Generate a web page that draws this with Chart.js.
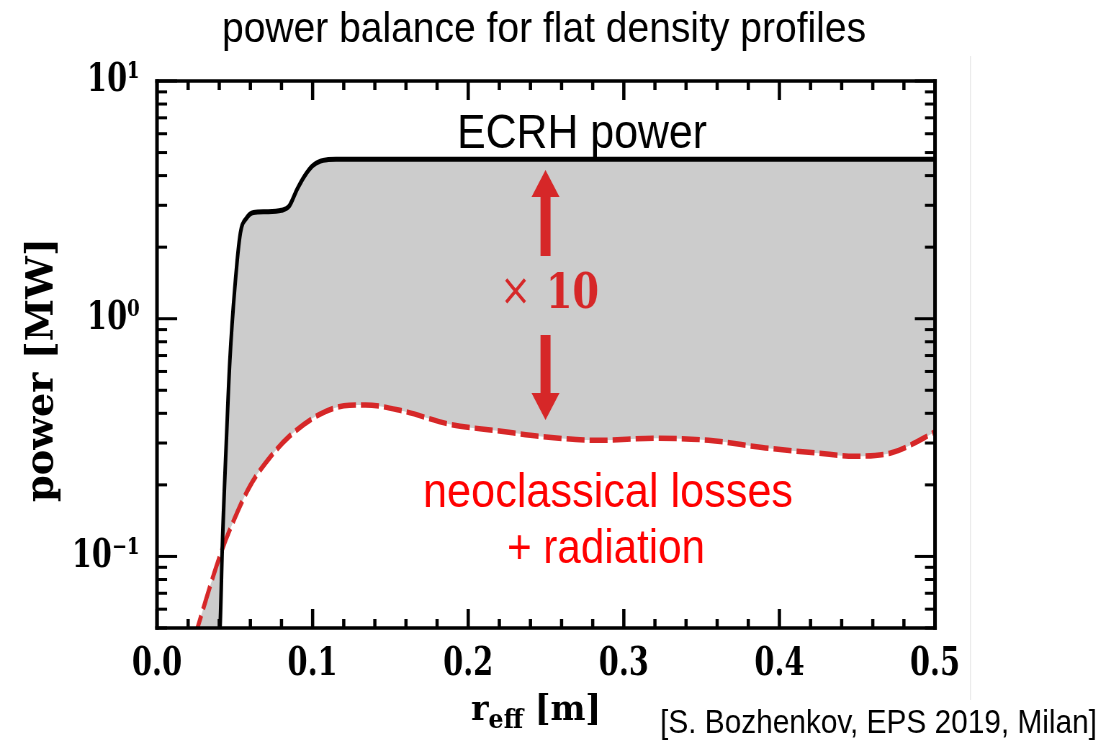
<!DOCTYPE html>
<html>
<head>
<meta charset="utf-8">
<script src="https://cdn.jsdelivr.net/npm/chart.js@4.4.1/dist/chart.umd.min.js"></script>
<style>
html, body { margin: 0; padding: 0; background: #fff; overflow: hidden; }
#wrap { position: absolute; left: 0; top: 0; height: 745px; transform-origin: 0 0; }
</style>
</head>
<body>
<div id="wrap"><canvas id="powerChart"></canvas></div>
<script>
// r_eff [m] / power [MW]
var rEcrh = [0.024, 0.0405, 0.042, 0.0445, 0.0468, 0.050, 0.0536, 0.0575, 0.062, 0.070, 0.080, 0.085, 0.090, 0.095, 0.100, 0.105, 0.110, 0.115, 0.2, 0.3, 0.4, 0.5];
var pEcrh = [0.01, 0.05, 0.112, 0.3, 0.665, 1.35, 2.3, 2.65, 2.8, 2.82, 2.86, 2.98, 3.5, 4.0, 4.4, 4.6, 4.67, 4.69, 4.69, 4.69, 4.69, 4.69];

var rNeo = [0.024, 0.026, 0.0414, 0.049, 0.0596, 0.0724, 0.085, 0.1045, 0.1237, 0.134, 0.158, 0.188, 0.22, 0.25, 0.284, 0.32, 0.3545, 0.391, 0.425, 0.448, 0.472, 0.497, 0.5];
var pNeo = [0.045, 0.05, 0.105, 0.14, 0.197, 0.26, 0.32, 0.396, 0.433, 0.434, 0.409, 0.36, 0.337, 0.318, 0.308, 0.314, 0.308, 0.286, 0.272, 0.264, 0.273, 0.326, 0.335];

var xMajor = [0, 0.1, 0.2, 0.3, 0.4, 0.5];
var xLabels = ['0.0', '0.1', '0.2', '0.3', '0.4', '0.5'];
var yMajor = [0.1, 1, 10];
var yLabels = ['10⁻¹', '10⁰', '10¹'];

// the figure on the slide is squeezed sideways, so draw wide and squeeze
var W = 1543, H = 745;
var SQUEEZE = 1111 / W;
var box = { left: 157, right: 935, top: 81, bottom: 628 }; // frame on screen

var wrap = document.getElementById('wrap');
wrap.style.width = W + 'px';
wrap.style.transform = 'scaleX(' + SQUEEZE + ')';

function findMajor(list, v) {
    for (var i = 0; i < list.length; i++) {
        if (Math.abs(list[i] - v) < 1e-9 * Math.max(1, list[i])) return i;
    }
    return -1;
}

function line(ctx, x1, y1, x2, y2) {
    ctx.beginPath();
    ctx.moveTo(x1, y1);
    ctx.lineTo(x2, y2);
    ctx.stroke();
}

function fitText(ctx, text, font, color, left, baseline, width) {
    ctx.save();
    ctx.font = font;
    ctx.fillStyle = color;
    ctx.textAlign = 'left';
    ctx.textBaseline = 'alphabetic';
    var w = ctx.measureText(text).width;
    ctx.translate(left, baseline);
    ctx.scale(width / w, 1);
    ctx.fillText(text, 0, 0);
    ctx.restore();
}

function arrow(ctx, x, tail, neck, tip) {
    ctx.beginPath();
    ctx.moveTo(x - 5, tail);
    ctx.lineTo(x - 5, neck);
    ctx.lineTo(x - 14, neck);
    ctx.lineTo(x, tip);
    ctx.lineTo(x + 14, neck);
    ctx.lineTo(x + 5, neck);
    ctx.lineTo(x + 5, tail);
    ctx.closePath();
    ctx.fill();
}

var decor = {
    id: 'decor',
    afterDraw: function (chart) {
        var ctx = chart.ctx;
        var a = chart.chartArea;
        var xs = chart.scales.x;
        var ys = chart.scales.y;

        ctx.save();
        ctx.strokeStyle = '#000';
        ctx.lineCap = 'butt';

        // inward ticks
        ctx.lineWidth = 4.5;
        xs.ticks.forEach(function (t) {
            var px = xs.getPixelForValue(t.value);
            var len = findMajor(xMajor, t.value) >= 0 ? 19 : 9;
            line(ctx, px, a.bottom, px, a.bottom - len);
            line(ctx, px, a.top, px, a.top + len);
        });
        ctx.lineWidth = 3;
        ys.ticks.forEach(function (t) {
            var v = t.value;
            var m = v / Math.pow(10, Math.floor(Math.log10(v) + 1e-9));
            if (Math.abs(m - Math.round(m)) > 1e-6) return;
            var py = ys.getPixelForValue(v);
            var len = findMajor(yMajor, v) >= 0 ? 28 : 14;
            line(ctx, a.left, py, a.left + len, py);
            line(ctx, a.right, py, a.right - len, py);
        });

        // frame
        ctx.lineWidth = 3.5;
        line(ctx, a.left - 2.5, a.top, a.right + 2.5, a.top);
        line(ctx, a.left - 2.5, a.bottom, a.right + 2.5, a.bottom);
        ctx.lineWidth = 5;
        line(ctx, a.left, a.top - 1.75, a.left, a.bottom + 1.75);
        line(ctx, a.right, a.top - 1.75, a.right, a.bottom + 1.75);

        // from here on, screen pixels
        ctx.save();
        ctx.scale(1 / SQUEEZE, 1);

        // axis titles
        ctx.fillStyle = '#000';
        ctx.font = 'bold 38px "DejaVu Serif"';
        ctx.textAlign = 'center';
        ctx.textBaseline = 'middle';
        ctx.save();
        ctx.translate(43, 370);
        ctx.rotate(-Math.PI / 2);
        var tw = ctx.measureText('power [MW]').width;
        ctx.scale(264 / tw, 1);
        ctx.fillText('power [MW]', 0, 0);
        ctx.restore();

        var big = 'bold 36px "DejaVu Serif"';
        var small = 'bold 26px "DejaVu Serif"';
        ctx.textAlign = 'left';
        ctx.textBaseline = 'alphabetic';
        ctx.font = big;
        var w1 = ctx.measureText('r').width;
        var w3 = ctx.measureText(' [m]').width;
        ctx.font = small;
        var w2 = ctx.measureText('eff').width;
        var k = 130 / (w1 + w2 + w3);
        ctx.save();
        ctx.translate(471, 720);
        ctx.scale(k, 1);
        ctx.font = big;
        ctx.fillText('r', 0, 0);
        ctx.font = small;
        ctx.fillText('eff', w1, 8);
        ctx.font = big;
        ctx.fillText(' [m]', w1 + w2, 0);
        ctx.restore();

        // slide annotations
        ctx.strokeStyle = '#e6e6e6';
        ctx.lineWidth = 1;
        line(ctx, 970.5, 56, 970.5, 700);

        fitText(ctx, 'power balance for flat density profiles', '42px "Liberation Sans"', '#000', 222, 42, 644);
        fitText(ctx, 'ECRH power', '49px "Liberation Sans"', '#000', 457, 148, 250);
        fitText(ctx, 'neoclassical losses', '48px "Liberation Sans"', '#ff0000', 423, 507, 370);
        fitText(ctx, '+ radiation', '48px "Liberation Sans"', '#ff0000', 507, 563, 198);
        fitText(ctx, '[S. Bozhenkov, EPS 2019, Milan]', '34px "Liberation Sans"', '#000', 660, 733, 437);
        fitText(ctx, '×', '44px "DejaVu Serif"', '#d62728', 500, 305, 31);
        fitText(ctx, '10', 'bold 48px "DejaVu Serif"', '#d62728', 546, 308, 53);

        ctx.fillStyle = '#d62728';
        arrow(ctx, 545.5, 256, 197, 170);
        arrow(ctx, 545.5, 335, 393, 420);
        ctx.restore();

        ctx.restore();
    }
};

new Chart(document.getElementById('powerChart'), {
    type: 'line',
    data: {
        datasets: [{
            label: 'ECRH power',
            data: rEcrh.map(function (r, i) { return { x: r, y: pEcrh[i] }; }),
            borderColor: '#000',
            borderWidth: 5,
            backgroundColor: '#cccccc',
            fill: '+1',
            pointRadius: 0,
            cubicInterpolationMode: 'monotone',
            clip: 0
        }, {
            label: 'neoclassical losses + radiation',
            data: rNeo.map(function (r, i) { return { x: r, y: pNeo[i] }; }),
            borderColor: '#d62728',
            borderWidth: 5.5,
            borderDash: [25, 7],
            fill: false,
            pointRadius: 0,
            cubicInterpolationMode: 'monotone',
            clip: 0
        }]
    },
    options: {
        responsive: true,
        maintainAspectRatio: false,
        animation: false,
        devicePixelRatio: 1,
        layout: { padding: { left: 0, top: box.top, right: W - box.right / SQUEEZE, bottom: 0 } },
        plugins: {
            legend: { display: false },
            tooltip: { enabled: false },
            filler: { drawTime: 'beforeDatasetsDraw' }
        },
        scales: {
            x: {
                type: 'linear',
                min: 0,
                max: 0.5,
                grid: { display: false, drawTicks: false },
                border: { display: false },
                ticks: {
                    stepSize: 0.02,
                    autoSkip: false,
                    maxRotation: 0,
                    minRotation: 0,
                    padding: 13,
                    color: '#000',
                    font: { family: '"DejaVu Serif"', weight: 'bold', size: 40 },
                    callback: function (v) {
                        var i = findMajor(xMajor, v);
                        return i >= 0 ? xLabels[i] : '';
                    }
                },
                afterFit: function (s) { s.height = H - box.bottom; }
            },
            y: {
                type: 'logarithmic',
                min: 0.05,
                max: 10,
                grid: { display: false, drawTicks: false },
                border: { display: false },
                ticks: {
                    autoSkip: false,
                    padding: 24,
                    color: '#000',
                    font: { family: '"DejaVu Serif"', weight: 'bold', size: 40 },
                    callback: function (v) {
                        var i = findMajor(yMajor, v);
                        return i >= 0 ? yLabels[i] : '';
                    }
                },
                afterFit: function (s) { s.width = box.left / SQUEEZE; }
            }
        }
    },
    plugins: [decor]
});
</script>
</body>
</html>
